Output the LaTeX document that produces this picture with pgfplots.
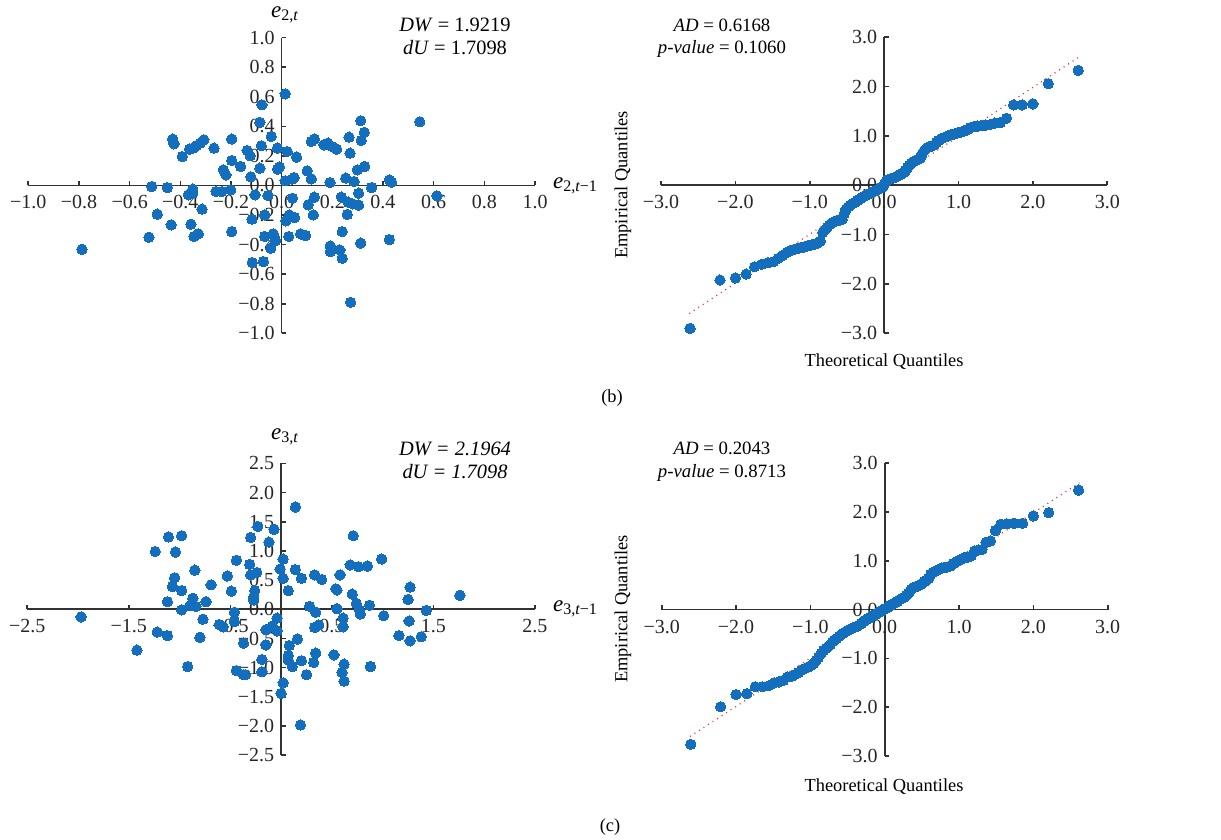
\documentclass[border=0pt]{standalone}
\usepackage{fontspec}
\setmainfont{Liberation Serif}
\usepackage{pgfplots}
\pgfplotsset{compat=1.18}
\usepackage{pgfplotstable}

\definecolor{ptblue}{RGB}{20,110,190}
\definecolor{axgray}{RGB}{50,50,50}
\definecolor{qqred}{RGB}{230,40,40}

\pgfplotsset{
  resid/.style={
    scale only axis,
    axis lines=center,
    axis line style={-, axgray, line width=0.8pt},
    tick align=inside,
    major tick length=2.3pt,
    tick style={axgray, line width=0.8pt},
    hide obscured x ticks=false,
    hide obscured y ticks=false,
    ticklabel style={font=\fontsize{10}{11}\selectfont, text=black!85},
    xticklabel style={yshift=-1.5pt},
    clip=false,
  },
  dots/.style={only marks, mark=*, mark size=2.6pt,
    mark options={fill=ptblue, draw=ptblue, line width=0pt}},
  qqline/.style={qqred, line width=0.6pt, dash pattern=on 0.5pt off 2.2pt},
}

% Q-Q data, panel (b)
\pgfplotstableread{
x y
-2.609 -2.90
-2.207 -1.92
-2.000 -1.88
-1.855 -1.80
-1.741 -1.65
-1.645 -1.60
-1.562 -1.57
-1.489 -1.55
-1.423 -1.48
-1.363 -1.42
-1.308 -1.36
-1.256 -1.32
-1.208 -1.30
-1.162 -1.28
-1.118 -1.26
-1.076 -1.25
-1.036 -1.23
-0.998 -1.22
-0.961 -1.20
-0.926 -1.19
-0.892 -1.17
-0.858 -1.13
-0.826 -0.96
-0.794 -0.90
-0.763 -0.85
-0.733 -0.80
-0.703 -0.76
-0.674 -0.74
-0.646 -0.72
-0.618 -0.71
-0.590 -0.70
-0.564 -0.69
-0.537 -0.58
-0.511 -0.48
-0.485 -0.44
-0.460 -0.41
-0.435 -0.38
-0.410 -0.36
-0.385 -0.34
-0.361 -0.31
-0.337 -0.29
-0.313 -0.26
-0.289 -0.24
-0.266 -0.22
-0.242 -0.20
-0.219 -0.19
-0.196 -0.17
-0.172 -0.15
-0.149 -0.13
-0.126 -0.11
-0.103 -0.10
-0.080 -0.08
-0.057 -0.06
-0.034 -0.04
-0.011 -0.02
0.011 0.05
0.034 0.10
0.057 0.12
0.080 0.13
0.103 0.14
0.126 0.15
0.149 0.16
0.172 0.18
0.196 0.20
0.219 0.22
0.242 0.24
0.266 0.26
0.289 0.30
0.313 0.36
0.337 0.41
0.361 0.44
0.385 0.47
0.410 0.49
0.435 0.51
0.460 0.53
0.485 0.55
0.511 0.64
0.537 0.70
0.564 0.74
0.590 0.77
0.618 0.79
0.646 0.80
0.674 0.82
0.703 0.87
0.733 0.91
0.763 0.94
0.794 0.96
0.826 0.98
0.858 1.00
0.892 1.02
0.926 1.03
0.961 1.05
0.998 1.07
1.036 1.08
1.076 1.10
1.118 1.13
1.162 1.17
1.208 1.19
1.256 1.20
1.308 1.21
1.363 1.22
1.423 1.23
1.489 1.26
1.562 1.27
1.645 1.36
1.741 1.63
1.855 1.63
2.000 1.65
2.207 2.06
2.609 2.33
}\qqb

% Q-Q data, panel (c)
\pgfplotstableread{
x y
-2.609 -2.76
-2.207 -1.99
-2.000 -1.74
-1.855 -1.72
-1.741 -1.58
-1.645 -1.58
-1.562 -1.56
-1.489 -1.50
-1.423 -1.48
-1.363 -1.45
-1.308 -1.38
-1.256 -1.37
-1.208 -1.33
-1.162 -1.29
-1.118 -1.24
-1.076 -1.21
-1.036 -1.18
-0.998 -1.15
-0.961 -1.11
-0.926 -1.05
-0.892 -0.98
-0.858 -0.90
-0.826 -0.84
-0.794 -0.80
-0.763 -0.76
-0.733 -0.72
-0.703 -0.66
-0.674 -0.62
-0.646 -0.59
-0.618 -0.55
-0.590 -0.52
-0.564 -0.49
-0.537 -0.46
-0.511 -0.44
-0.485 -0.42
-0.460 -0.40
-0.435 -0.38
-0.410 -0.36
-0.385 -0.35
-0.361 -0.33
-0.337 -0.31
-0.313 -0.28
-0.289 -0.25
-0.266 -0.22
-0.242 -0.20
-0.219 -0.18
-0.196 -0.16
-0.172 -0.14
-0.149 -0.12
-0.126 -0.10
-0.103 -0.08
-0.080 -0.06
-0.057 -0.04
-0.034 -0.02
-0.011 0.00
0.011 0.02
0.034 0.04
0.057 0.07
0.080 0.09
0.103 0.11
0.126 0.13
0.149 0.15
0.172 0.17
0.196 0.20
0.219 0.22
0.242 0.24
0.266 0.26
0.289 0.29
0.313 0.33
0.337 0.37
0.361 0.42
0.385 0.45
0.410 0.47
0.435 0.48
0.460 0.50
0.485 0.52
0.511 0.55
0.537 0.58
0.564 0.61
0.590 0.64
0.618 0.72
0.646 0.76
0.674 0.78
0.703 0.80
0.733 0.83
0.763 0.85
0.794 0.86
0.826 0.87
0.858 0.88
0.892 0.90
0.926 0.95
0.961 0.98
0.998 1.01
1.036 1.04
1.076 1.07
1.118 1.08
1.162 1.10
1.208 1.20
1.256 1.22
1.308 1.23
1.363 1.38
1.423 1.41
1.489 1.62
1.562 1.75
1.645 1.76
1.741 1.77
1.855 1.77
2.000 1.92
2.207 1.99
2.609 2.45
}\qqc

\newcommand{\lab}{\fontsize{11.5}{12}\selectfont}
\newcommand{\stat}{\fontsize{10.2}{11}\selectfont}
\newcommand{\qst}{\fontsize{9.4}{10}\selectfont}
\newcommand{\axl}{\fontsize{9.2}{10}\selectfont}

\begin{document}
\begin{tikzpicture}
\useasboundingbox (0,0) rectangle (610.5pt,420pt);

% (b) lag plot
\begin{axis}[resid, at={(14.15pt,253.35pt)}, anchor=south west,
  width=253.35pt, height=147.8pt,
  xmin=-1, xmax=1, ymin=-1, ymax=1,
  xtick={-1,-0.8,-0.6,-0.4,-0.2,0,0.2,0.4,0.6,0.8,1},
  xticklabels={−1.0,−0.8,−0.6,−0.4,−0.2,0.0,0.2,0.4,0.6,0.8,1.0},
  ytick={-1,-0.8,-0.6,-0.4,-0.2,0,0.2,0.4,0.6,0.8,1},
  yticklabels={−1.0,−0.8,−0.6,−0.4,−0.2,0.0,0.2,0.4,0.6,0.8,1.0}]
\addplot[dots] coordinates {
(0.014,0.620) (-0.078,0.546) (-0.086,0.427) (-0.041,0.332) (-0.080,0.269)
(-0.017,0.253) (-0.136,0.237) (-0.124,0.201) (-0.197,0.314) (-0.197,0.169)
(-0.162,0.129) (-0.230,0.106) (-0.220,0.072) (-0.086,0.117) (-0.009,0.124)
(-0.016,0.111) (-0.122,0.059) (-0.267,0.253) (-0.307,0.309) (-0.322,0.287)
(-0.336,0.269) (-0.349,0.253) (-0.364,0.246) (-0.430,0.314) (-0.425,0.282)
(-0.392,0.196) (-0.513,-0.007) (-0.451,-0.014) (-0.351,-0.025) (-0.351,-0.052)
(-0.368,-0.063) (-0.259,-0.041) (-0.237,-0.041) (-0.201,-0.029) (-0.105,-0.063)
(-0.054,-0.068) (-0.314,-0.160) (-0.491,-0.194) (-0.436,-0.266) (-0.358,-0.262)
(-0.524,-0.350) (-0.346,-0.345) (-0.329,-0.327) (-0.197,-0.312) (-0.117,-0.228)
(-0.067,-0.199) (-0.067,-0.345) (-0.033,-0.327) (-0.024,-0.372) (-0.043,-0.424)
(-0.116,-0.521) (-0.072,-0.515) (0.014,0.032) (0.041,0.043) (0.049,0.054)
(0.022,0.230) (0.059,0.192) (0.101,0.099) (0.117,0.045) (0.117,0.298)
(0.129,0.314) (0.167,0.275) (0.183,0.287) (0.199,0.264) (0.217,0.246)
(0.191,0.020) (0.043,-0.086) (0.105,-0.131) (0.129,-0.079) (0.030,-0.199)
(0.051,-0.217) (0.017,-0.239) (0.125,-0.199) (0.028,-0.345) (0.075,-0.327)
(0.095,-0.339) (0.192,-0.409) (0.192,-0.447) (0.230,-0.436) (0.239,-0.492)
(0.239,-0.312) (0.272,-0.790) (0.236,-0.079) (0.263,-0.113) (0.280,-0.124)
(0.304,-0.133) (0.304,-0.052) (0.259,-0.196) (0.312,-0.390) (0.253,0.050)
(0.286,0.027) (0.299,0.106) (0.328,0.129) (0.270,0.219) (0.266,0.327)
(0.314,0.305) (0.326,0.359) (0.312,0.438) (0.355,-0.014) (0.425,0.038)
(0.434,0.023) (0.425,-0.366) (0.545,0.431) (0.613,-0.070) (-0.788,-0.432)
};
\end{axis}

% (b) Q-Q plot
\begin{axis}[resid, at={(330.5pt,253.35pt)}, anchor=south west,
  width=223.15pt, height=148pt,
  xmin=-3, xmax=3, ymin=-3, ymax=3,
  xtick={-3,-2,-1,0,1,2,3},
  xticklabels={−3.0,−2.0,−1.0,0.0,1.0,2.0,3.0},
  ytick={-3,-2,-1,0,1,2,3},
  yticklabels={−3.0,−2.0,−1.0,0.0,1.0,2.0,3.0}]
\addplot[dots] table[x=x, y=y] {\qqb};
\addplot[qqline] coordinates {(-2.62,-2.60) (2.62,2.60)};
\end{axis}

% (c) lag plot
\begin{axis}[resid, at={(13.65pt,42.35pt)}, anchor=south west,
  width=253.85pt, height=146pt,
  xmin=-2.5, xmax=2.5, ymin=-2.5, ymax=2.5,
  xtick={-2.5,-1.5,-0.5,0.5,1.5,2.5},
  xticklabels={−2.5,−1.5,−0.5,0.5,1.5,2.5},
  ytick={-2.5,-2,-1.5,-1,-0.5,0,0.5,1,1.5,2,2.5},
  yticklabels={−2.5,−2.0,−1.5,−1.0,−0.5,0.0,0.5,1.0,1.5,2.0,2.5}]
\addplot[dots] coordinates {
(0.14,1.75) (-0.23,1.42) (-0.07,1.37) (-0.30,1.23) (-0.12,1.15)
(-1.11,1.24) (-0.98,1.26) (-1.24,0.99) (-1.04,0.98) (0.71,1.26)
(0.02,0.86) (-0.44,0.84) (-0.31,0.77) (-0.01,0.69) (0.14,0.68)
(-0.85,0.67) (-0.24,0.63) (-0.30,0.59) (-0.53,0.57) (0.02,0.53)
(0.20,0.53) (0.33,0.59) (0.40,0.51) (0.58,0.59) (0.68,0.76)
(0.76,0.73) (0.85,0.74) (0.99,0.86) (-1.05,0.54) (-1.07,0.39)
(-0.98,0.32) (-0.69,0.42) (-0.49,0.31) (-0.26,0.32) (-0.27,0.21)
(-0.27,0.16) (0.07,0.32) (0.54,0.35) (0.55,0.33) (0.70,0.26)
(-1.12,0.13) (-0.87,0.19) (-0.74,0.13) (-0.90,0.06) (-0.84,0.05)
(-0.98,-0.01) (-0.46,-0.05) (0.28,0.05) (0.55,0.01) (0.74,0.10)
(0.87,0.07) (0.77,-0.01) (0.78,-0.08) (1.01,-0.11) (0.34,-0.05)
(1.27,0.38) (1.25,0.17) (1.76,0.24) (1.43,-0.02) (1.26,-0.20)
(1.16,-0.45) (1.27,-0.54) (1.38,-0.47) (0.88,-0.98) (0.61,-0.15)
(0.61,-0.30) (0.33,-0.31) (0.37,-0.27) (-0.04,-0.15) (-0.04,-0.37)
(-0.09,-0.29) (-0.15,-0.35) (-0.77,-0.17) (-0.61,-0.26) (-0.57,-0.30)
(-0.46,-0.21) (-0.80,-0.48) (-1.22,-0.39) (-1.12,-0.45) (-1.42,-0.70)
(-0.92,-0.98) (-0.37,-0.58) (-0.15,-0.61) (0.16,-0.51) (0.08,-0.62)
(0.07,-0.79) (0.07,-0.87) (0.20,-0.88) (0.11,-0.98) (0.25,-1.12)
(0.32,-0.91) (0.34,-0.75) (0.52,-0.78) (0.62,-0.94) (0.60,-1.08)
(0.62,-1.23) (-0.19,-0.86) (-0.19,-1.07) (-0.44,-1.05) (-0.37,-1.12)
(-0.35,-1.12) (0.02,-1.26) (0.00,-1.44) (0.19,-1.98) (-1.97,-0.13)
};
\end{axis}

% (c) Q-Q plot
\begin{axis}[resid, at={(330.85pt,42pt)}, anchor=south west,
  width=223pt, height=146.35pt,
  xmin=-3, xmax=3, ymin=-3, ymax=3,
  xtick={-3,-2,-1,0,1,2,3},
  xticklabels={−3.0,−2.0,−1.0,0.0,1.0,2.0,3.0},
  ytick={-3,-2,-1,0,1,2,3},
  yticklabels={−3.0,−2.0,−1.0,0.0,1.0,2.0,3.0}]
\addplot[dots] table[x=x, y=y] {\qqc};
\addplot[qqline] coordinates {(-2.62,-2.60) (2.62,2.60)};
\end{axis}

% labels and annotations
\node at (142.5pt,412.5pt) {\lab\itshape e\textsubscript{\upshape 2,\itshape t}};
\node[anchor=west] at (273pt,327pt) {\lab\itshape e\textsubscript{\upshape 2,\itshape t\upshape −1}};
\node at (227.5pt,407.5pt) {\stat\textit{DW} = 1.9219};
\node at (227.5pt,396pt) {\stat\textit{dU} = 1.7098};
\node at (361pt,407.5pt) {\qst\textit{AD} = 0.6168};
\node at (361pt,395.5pt) {\qst\textit{p-value} = 0.1060};
\node[rotate=90] at (311.5pt,327.5pt) {\axl Empirical Quantiles};
\node at (442pt,239pt) {\axl Theoretical Quantiles};
\node at (306pt,221pt) {\axl (b)};

\node at (142.5pt,201.5pt) {\lab\itshape e\textsubscript{\upshape 3,\itshape t}};
\node[anchor=west] at (273pt,115.5pt) {\lab\itshape e\textsubscript{\upshape 3,\itshape t\upshape −1}};
\node at (227.5pt,195.5pt) {\stat\itshape DW = 2.1964};
\node at (227.5pt,184pt) {\stat\itshape dU = 1.7098};
\node at (361pt,196pt) {\qst\textit{AD} = 0.2043};
\node at (361pt,183.5pt) {\qst\textit{p-value} = 0.8713};
\node[rotate=90] at (311.5pt,115.5pt) {\axl Empirical Quantiles};
\node at (442pt,26.5pt) {\axl Theoretical Quantiles};
\node at (305pt,6.5pt) {\axl (c)};
\end{tikzpicture}
\end{document}
